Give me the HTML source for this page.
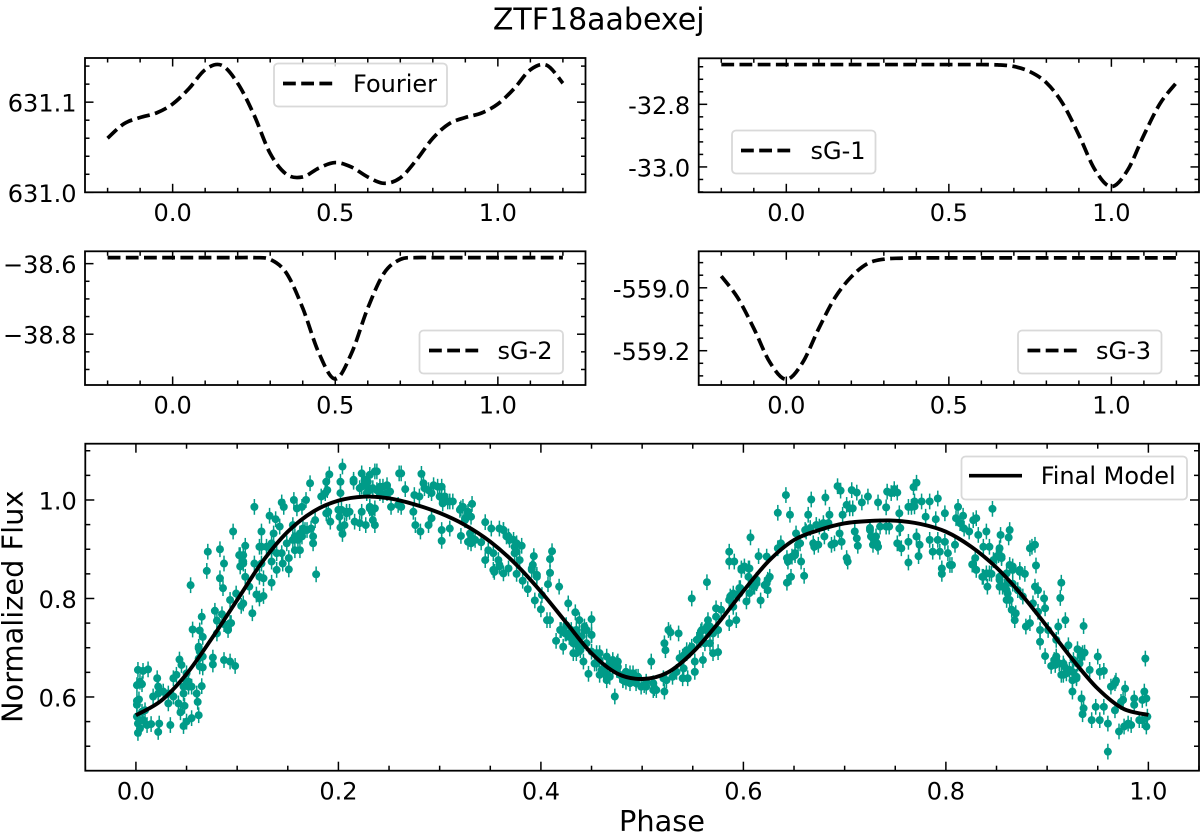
<!DOCTYPE html>
<html lang="en">
<head>
<meta charset="utf-8">
<title>ZTF18aabexej</title>
<style>
html,body{margin:0;padding:0;background:#fff;width:1200px;height:834px;overflow:hidden}
svg{display:block}
text{font-family:"DejaVu Sans","Liberation Sans",sans-serif;fill:#000}
</style>
</head>
<body>
<svg id="figure" xmlns="http://www.w3.org/2000/svg" width="1200" height="834" viewBox="0 0 1200 834">
<text x="598.7" y="29.5" text-anchor="middle" font-size="30">ZTF18aabexej</text>
</svg>
<script>
// Component curves
const gridPhase = [-0.2,-0.15,-0.1,-0.05,0,0.05,0.1,0.15,0.2,0.25,0.3,0.35,0.4,0.45,0.5,0.55,0.6,0.65,0.7,0.75,0.8,0.85,0.9,0.95,1.0,1.05,1.1,1.15,1.2];
const fourierValues = [631.060,631.076,631.083,631.088,631.098,631.115,631.136,631.141,631.121,631.086,631.043,631.020,631.017,631.027,631.033,631.028,631.017,631.010,631.016,631.036,631.060,631.076,631.083,631.088,631.098,631.115,631.136,631.141,631.121];
const sg1Values = [-32.673,-32.673,-32.673,-32.673,-32.673,-32.673,-32.673,-32.673,-32.673,-32.673,-32.673,-32.673,-32.673,-32.673,-32.673,-32.673,-32.673,-32.674,-32.679,-32.696,-32.731,-32.797,-32.898,-33.010,-33.063,-33.010,-32.898,-32.797,-32.731];
const sg2Values = [-38.583,-38.583,-38.583,-38.583,-38.583,-38.583,-38.583,-38.583,-38.583,-38.583,-38.588,-38.627,-38.726,-38.854,-38.927,-38.854,-38.726,-38.627,-38.588,-38.583,-38.583,-38.583,-38.583,-38.583,-38.583,-38.583,-38.583,-38.583,-38.583];
const sg3Values = [-558.963,-559.031,-559.129,-559.238,-559.291,-559.238,-559.129,-559.031,-558.965,-558.923,-558.909,-558.906,-558.905,-558.905,-558.905,-558.905,-558.905,-558.905,-558.905,-558.905,-558.905,-558.905,-558.905,-558.905,-558.905,-558.905,-558.905,-558.905,-558.905];

// Tick labels
const componentXTicks = [0,0.5,1.0];
const componentXLabels = ["0.0","0.5","1.0"];
const fourierYTicks = [631.0,631.1];
const fourierYLabels = ["631.0","631.1"];
const sg1YTicks = [-33.0,-32.8];
const sg1YLabels = ["-33.0","-32.8"];
const sg2YTicks = [-38.8,-38.6];
const sg2YLabels = ["\u221238.8","\u221238.6"];
const sg3YTicks = [-559.2,-559.0];
const sg3YLabels = ["-559.2","-559.0"];
const mainXTicks = [0,0.2,0.4,0.6,0.8,1.0];
const mainXLabels = ["0.0","0.2","0.4","0.6","0.8","1.0"];
const mainYTicks = [0.6,0.8,1.0];
const mainYLabels = ["0.6","0.8","1.0"];

// Final model
const modelPhase = [0,0.025,0.05,0.075,0.1,0.125,0.15,0.175,0.2,0.225,0.25,0.275,0.3,0.325,0.35,0.375,0.4,0.425,0.45,0.475,0.5,0.525,0.55,0.575,0.6,0.625,0.65,0.675,0.7,0.725,0.75,0.775,0.8,0.825,0.85,0.875,0.9,0.925,0.95,0.975,1.0];
const modelFlux = [0.5628,0.5926,0.6467,0.7191,0.797,0.8748,0.9357,0.9763,0.9986,1.0068,1.0034,0.9912,0.9736,0.9492,0.9154,0.8701,0.8139,0.751,0.6887,0.648,0.6365,0.6494,0.6907,0.7496,0.8152,0.8761,0.9188,0.9391,0.9526,0.9574,0.958,0.9513,0.9357,0.9052,0.8626,0.8071,0.7428,0.6765,0.6169,0.5763,0.5635];

// Observations
const fluxError = 0.016;
const obsPhase = [
0.002,0.007,0.012,0.001,0.004,0.006,0.001,0.003,0.001,0.006,
0.009,0.001,0.002,0.007,0.011,0.015,0.002,0.004,0.022,0.023,
0.034,0.021,0.022,0.017,0.022,0.027,0.032,0.037,0.032,0.042,
0.048,0.044,0.047,0.037,0.040,0.043,0.045,0.050,0.052,0.055,
0.065,0.060,0.061,0.062,0.055,0.050,0.047,0.063,0.066,0.062,
0.063,0.062,0.066,0.076,0.076,0.087,0.093,0.098,0.056,0.063,
0.066,0.078,0.065,0.080,0.085,0.087,0.091,0.094,0.080,0.093,
0.099,0.106,0.104,0.115,0.134,0.119,0.122,0.126,0.054,0.070,
0.071,0.083,0.087,0.083,0.086,0.096,0.102,0.106,0.108,0.103,
0.106,0.108,0.112,0.117,0.122,0.124,0.117,0.132,0.138,0.142,
0.136,0.124,0.122,0.126,0.134,0.129,0.134,0.139,0.144,0.145,
0.149,0.151,0.151,0.157,0.157,0.162,0.160,0.164,0.167,0.175,
0.175,0.178,0.155,0.165,0.173,0.177,0.144,0.146,0.156,0.159,
0.164,0.168,0.172,0.183,0.187,0.189,0.188,0.191,0.192,0.190,
0.200,0.201,0.202,0.204,0.206,0.202,0.202,0.204,0.208,0.211,
0.215,0.215,0.216,0.221,0.227,0.223,0.221,0.226,0.231,0.236,
0.238,0.231,0.234,0.244,0.248,0.251,0.223,0.231,0.236,0.234,
0.236,0.252,0.244,0.260,0.259,0.223,0.228,0.238,0.241,0.248,
0.241,0.228,0.229,
0.262,0.266,0.282,0.284,0.289,0.294,0.298,0.302,0.285,0.292,
0.300,0.305,0.308,0.313,0.262,0.274,0.275,0.280,0.276,0.281,
0.289,0.292,0.302,0.302,0.310,0.320,0.323,0.332,0.328,0.331,
0.325,0.321,0.330,0.331,0.335,0.341,0.345,0.351,0.359,0.363,
0.368,0.373,0.376,0.381,0.374,0.348,0.353,0.345,0.358,0.354,
0.359,0.368,0.363,0.376,0.382,0.387,0.393,0.392,0.391,0.396,
0.409,0.411,0.409,0.407,0.401,0.394,0.400,0.406,0.409,0.418,
0.427,0.434,0.438,0.450,0.420,0.425,0.428,0.435,0.443,0.450,
0.415,0.422,0.432,0.435,0.440,0.442,0.447,0.455,0.453,0.460,
0.465,0.471,0.476,0.465,0.473,0.481,0.484,0.491,0.496,0.502,
0.509,0.514,0.522,0.523,0.526,0.528,0.536,0.522,0.524,0.530,
0.540,0.545,0.541,0.552,0.540,0.547,0.544,0.552,0.560,0.554,
0.558,0.563,0.565,0.564,0.549,0.567,0.570,0.575,0.575,0.573,
0.578,0.586,0.586,0.593,0.590,0.596,0.586,0.586,0.591,0.598,
0.601,0.606,0.605,0.610,0.603,0.617,0.624,0.607,0.615,0.623,
0.626,0.634,0.642,0.646,0.634,0.637,0.644,0.643,0.647,0.652,
0.654,0.651,
0.458,0.468,0.475,0.478,0.488,0.494,0.504,0.511,0.521,0.534,
0.539,0.425,0.430,0.438,0.445,0.450,0.458,0.466,0.471,0.484,
0.499,0.511,0.558,0.562,0.567,0.590,0.596,0.613,0.623,
0.657,0.660,0.656,0.661,0.664,0.667,0.669,0.670,0.674,0.672,
0.675,0.681,0.680,0.684,0.685,0.687,0.690,0.693,0.696,0.695,
0.697,0.698,0.702,0.703,0.702,0.705,0.707,0.708,0.710,0.712,
0.713,0.712,0.717,0.723,0.725,0.726,0.728,0.731,0.733,0.733,
0.735,0.741,0.742,0.744,0.746,0.749,0.752,0.752,0.756,0.754,
0.754,0.763,0.766,0.768,0.771,0.769,0.763,0.763,0.771,0.773,
0.774,0.776,0.780,0.784,0.784,0.787,0.790,0.792,0.792,0.794,
0.796,0.796,0.799,0.799,0.802,0.804,0.806,0.809,0.810,0.812,
0.814,0.817,0.818,0.823,0.827,0.830,0.832,0.837,0.840,0.843,
0.846,0.853,0.854,0.863,0.862,0.826,0.829,0.830,0.836,0.840,
0.841,0.845,0.850,0.855,0.853,0.856,0.861,0.860,0.863,0.866,
0.873,0.878,0.865,0.868,0.869,0.879,0.883,0.888,0.891,0.883,
0.885,0.888,0.889,0.897,0.898,0.893,0.893,0.901,0.898,0.904,
0.907,0.911,0.914,0.913,0.918,0.909,0.916,0.917,0.921,0.925,
0.930,0.935,0.937,0.936,0.932,0.929,0.942,0.925,0.934,0.936,
0.935,0.944,0.950,0.952,0.956,0.952,0.948,0.956,0.960,0.963,
0.967,0.968,0.960,0.967,0.971,0.975,0.977,0.980,0.983,0.986,
0.986,0.991,0.994,0.996,0.998,0.997,0.998,0.994,0.999,0.973,
0.976,
0.860,0.866,0.871,0.886,0.891,0.912,0.919,0.925,0.930,0.934,
0.909,0.853,0.861,0.876,
0.419,0.424,0.429,0.434,0.437,0.432,0.440,0.445,0.443,0.450,
0.439,0.458,0.465,0.471,0.475,0.476,0.455,0.462,0.468,0.481,
0.488,0.494,0.504,0.512,0.488,0.494,
0.303,0.310,0.321,0.328,0.325,0.332,0.328,0.363,0.369,0.374,
0.366,0.376,0.359,0.353,0.391,0.396,0.379,
0.537,0.544,0.549,0.557,0.559,0.564,0.570,0.573,0.587,0.590,
0.597,0.598,0.605,0.606,0.611,0.613,0.621,0.624,0.643,0.648,
0.651,0.662,0.666,0.672,0.679,0.725,0.728,0.732,0.741,0.755,
0.769,0.771,
0.860,0.863,0.866,0.873,0.858,0.837,0.843,0.853,0.909,0.916,
0.922,0.929,0.919,0.914,0.926,0.908,0.934,0.847,0.852,0.855,
0.050,0.047,0.052,0.062,0.103,0.106,0.134,0.139,0.124,0.162,
0.155,0.169,0.203,0.208,0.231,0.233,0.188,0.093
];
const obsFlux = [
0.655,0.653,0.656,0.624,0.631,0.626,0.592,0.595,0.584,0.570,
0.573,0.560,0.546,0.553,0.543,0.545,0.527,0.536,0.529,0.546,
0.543,0.638,0.621,0.601,0.607,0.611,0.607,0.601,0.587,0.587,
0.582,0.569,0.607,0.638,0.645,0.676,0.665,0.648,0.631,0.621,
0.622,0.607,0.590,0.563,0.557,0.550,0.541,0.662,0.660,0.699,
0.692,0.678,0.682,0.680,0.666,0.675,0.672,0.663,0.737,0.735,
0.722,0.775,0.763,0.755,0.768,0.748,0.736,0.750,0.729,0.797,
0.810,0.790,0.785,0.770,0.832,0.808,0.800,0.805,0.827,0.856,
0.895,0.900,0.871,0.841,0.821,0.936,0.888,0.888,0.907,0.865,
0.871,0.844,0.824,0.871,0.905,0.936,0.986,0.968,0.961,0.946,
0.932,0.871,0.844,0.841,0.912,0.905,0.875,0.858,0.892,0.871,
0.912,0.882,0.859,0.926,0.898,0.898,0.919,0.926,0.939,0.926,
0.912,0.849,0.949,0.942,0.942,0.959,0.995,0.986,1.000,0.983,
0.986,1.000,1.034,1.007,1.014,1.020,1.037,1.052,0.956,0.976,
0.980,0.966,0.944,0.931,0.949,1.014,1.037,1.068,0.973,0.976,
1.041,1.037,0.956,0.953,0.949,1.054,1.024,1.041,1.051,1.058,
1.058,1.020,1.024,1.027,1.030,1.017,0.976,0.983,0.983,0.959,
0.949,0.986,1.010,1.054,0.990,1.027,1.014,1.020,1.014,1.014,
1.027,1.027,1.037,
1.054,1.022,1.053,1.034,1.020,1.030,1.027,1.027,1.024,1.014,
1.007,1.007,0.997,0.997,0.986,0.976,1.010,1.007,0.949,0.936,
0.949,0.963,0.939,0.917,0.942,0.980,0.986,0.992,0.976,0.966,
0.959,0.927,0.932,0.912,0.919,0.914,0.955,0.942,0.942,0.939,
0.926,0.919,0.912,0.907,0.892,0.898,0.892,0.878,0.878,0.854,
0.868,0.861,0.851,0.850,0.836,0.819,0.886,0.868,0.858,0.844,
0.880,0.896,0.852,0.829,0.807,0.796,0.778,0.756,0.756,0.824,
0.790,0.772,0.756,0.758,0.736,0.729,0.722,0.736,0.736,0.726,
0.714,0.702,0.709,0.689,0.702,0.672,0.647,0.689,0.668,0.655,
0.662,0.672,0.672,0.634,0.601,0.634,0.651,0.648,0.641,0.624,
0.672,0.614,0.709,0.695,0.736,0.731,0.729,0.611,0.634,0.641,
0.638,0.638,0.658,0.651,0.682,0.695,0.689,0.672,0.675,0.716,
0.733,0.736,0.756,0.833,0.800,0.709,0.689,0.691,0.736,0.780,
0.777,0.797,0.750,0.756,0.810,0.821,0.895,0.875,0.875,0.861,
0.865,0.861,0.844,0.824,0.794,0.796,0.817,0.924,0.886,0.885,
0.844,0.974,1.010,0.970,0.902,0.912,0.875,0.832,0.844,0.932,
0.909,0.888,
0.675,0.668,0.655,0.645,0.638,0.634,0.631,0.628,0.638,0.651,
0.675,0.746,0.736,0.722,0.709,0.692,0.645,0.645,0.658,0.631,
0.621,0.614,0.716,0.709,0.743,0.783,0.810,0.831,0.831,
0.875,0.846,0.912,0.939,0.970,1.001,0.912,0.905,0.909,0.949,
0.946,1.005,0.926,0.953,0.970,0.909,0.912,1.028,1.019,0.932,
0.915,0.970,0.882,0.875,0.990,0.983,1.020,0.983,0.936,1.015,
0.907,0.922,0.995,1.007,0.939,0.926,0.909,0.926,0.905,0.995,
0.946,0.985,1.017,0.946,1.014,1.022,1.015,0.912,0.902,0.973,
0.942,0.986,0.986,1.026,1.035,0.997,0.873,0.915,0.926,0.886,
0.909,0.997,0.966,0.997,0.919,0.895,0.961,1.003,0.919,0.895,
0.861,0.850,0.973,0.915,0.892,0.868,0.868,0.909,0.963,0.986,
0.953,0.968,0.942,0.936,0.959,0.963,0.929,0.905,0.936,0.905,
0.982,0.902,0.929,0.939,0.924,0.869,0.882,0.858,0.844,0.851,
0.824,0.850,0.885,0.882,0.844,0.824,0.810,0.797,0.868,0.858,
0.854,0.850,0.777,0.756,0.770,0.743,0.750,0.824,0.817,0.902,
0.905,0.909,0.867,0.800,0.780,0.736,0.712,0.736,0.683,0.663,
0.675,0.743,0.832,0.801,0.756,0.716,0.645,0.662,0.705,0.651,
0.697,0.689,0.690,0.744,0.668,0.638,0.655,0.611,0.597,0.577,
0.565,0.553,0.682,0.651,0.653,0.553,0.580,0.580,0.546,0.621,
0.628,0.633,0.489,0.573,0.530,0.594,0.617,0.546,0.543,0.597,
0.584,0.553,0.594,0.611,0.597,0.678,0.540,0.553,0.560,0.590,
0.540,
0.851,0.830,0.817,0.790,0.773,0.668,0.655,0.634,0.668,0.682,
0.682,0.824,0.831,0.804,
0.736,0.729,0.723,0.716,0.702,0.689,0.723,0.736,0.743,0.726,
0.695,0.689,0.682,0.675,0.668,0.661,0.668,0.651,0.641,0.635,
0.648,0.641,0.621,0.618,0.628,0.628,
0.993,0.997,0.983,0.973,0.963,0.922,0.915,0.939,0.919,0.905,
0.926,0.895,0.865,0.858,0.861,0.848,0.878,
0.679,0.695,0.702,0.723,0.736,0.743,0.729,0.763,0.804,0.807,
0.821,0.858,0.861,0.811,0.824,0.838,0.827,0.838,0.882,0.885,
0.892,0.936,0.943,0.949,0.953,0.943,0.922,0.912,0.946,0.943,
0.987,0.926,
0.817,0.797,0.865,0.858,0.824,0.844,0.851,0.838,0.682,0.668,
0.655,0.641,0.648,0.645,0.675,0.665,0.685,0.878,0.888,0.885,
0.631,0.621,0.621,0.702,0.888,0.875,0.898,0.892,0.905,0.932,
0.919,0.939,0.980,0.976,0.986,0.976,0.973,0.750
];

const SVG_NS = 'http://www.w3.org/2000/svg';
const figure = document.getElementById('figure');

function make(parent, tag, attrs, content) {
  const el = document.createElementNS(SVG_NS, tag);
  for (const k in attrs) el.setAttribute(k, attrs[k]);
  if (content !== undefined) el.textContent = content;
  parent.appendChild(el);
  return el;
}

function smoothPath(xs, ys) {
  let d = 'M' + xs[0].toFixed(2) + ' ' + ys[0].toFixed(2);
  for (let i = 0; i < xs.length - 1; i++) {
    const i0 = Math.max(0, i - 1), i3 = Math.min(xs.length - 1, i + 2);
    const c1x = xs[i] + (xs[i + 1] - xs[i0]) / 6;
    const c1y = ys[i] + (ys[i + 1] - ys[i0]) / 6;
    const c2x = xs[i + 1] - (xs[i3] - xs[i]) / 6;
    const c2y = ys[i + 1] - (ys[i3] - ys[i]) / 6;
    d += 'C' + c1x.toFixed(2) + ' ' + c1y.toFixed(2) + ' ' + c2x.toFixed(2) + ' ' + c2y.toFixed(2) + ' ' + xs[i + 1].toFixed(2) + ' ' + ys[i + 1].toFixed(2);
  }
  return d;
}

function drawAxes(name, box, xDomain, yDomain, xTicks, xLabels, xMinorStep, yTicks, yLabels, yMinorStep, majorLen, minorLen) {
  const g = make(figure, 'g', {});
  
  
  const sx = v => box.left + (v - xDomain[0]) / (xDomain[1] - xDomain[0]) * (box.right - box.left);
  const sy = v => box.bottom - (v - yDomain[0]) / (yDomain[1] - yDomain[0]) * (box.bottom - box.top);

  function tick(x1, y1, x2, y2, kind) {
    const t = make(g, 'line', {x1: x1, y1: y1, x2: x2, y2: y2, stroke: '#000', 'stroke-width': 1.5});
    
    
  }
  const xStart = Math.ceil(xDomain[0] / xMinorStep - 1e-6), xEnd = Math.floor(xDomain[1] / xMinorStep + 1e-6);
  for (let k = xStart; k <= xEnd; k++) {
    const v = k * xMinorStep;
    if (xTicks.some(m => Math.abs(m - v) < 1e-6)) continue;
    tick(sx(v), box.bottom, sx(v), box.bottom - minorLen, 'x-minor-tick');
    tick(sx(v), box.top, sx(v), box.top + minorLen, 'x-minor-tick');
  }
  const yStart = Math.ceil(yDomain[0] / yMinorStep - 1e-6), yEnd = Math.floor(yDomain[1] / yMinorStep + 1e-6);
  for (let k = yStart; k <= yEnd; k++) {
    const v = k * yMinorStep;
    if (yTicks.some(m => Math.abs(m - v) < 1e-6)) continue;
    tick(box.left, sy(v), box.left + minorLen, sy(v), 'y-minor-tick');
    tick(box.right, sy(v), box.right - minorLen, sy(v), 'y-minor-tick');
  }
  xTicks.forEach((v, i) => {
    tick(sx(v), box.bottom, sx(v), box.bottom - majorLen, 'x-major-tick');
    tick(sx(v), box.top, sx(v), box.top + majorLen, 'x-major-tick');
    const lab = make(g, 'text', {x: sx(v), y: box.bottom + 28.6, 'text-anchor': 'middle', 'font-size': 24}, xLabels[i]);
    
    
  });
  yTicks.forEach((v, i) => {
    tick(box.left, sy(v), box.left + majorLen, sy(v), 'y-major-tick');
    tick(box.right, sy(v), box.right - majorLen, sy(v), 'y-major-tick');
    const lab = make(g, 'text', {x: box.left - 8.5, y: sy(v) + 9.5, 'text-anchor': 'end', 'font-size': 24}, yLabels[i]);
    
    
  });
  const frame = make(g, 'rect', {x: box.left, y: box.top, width: box.right - box.left, height: box.bottom - box.top, fill: 'none', stroke: '#000', 'stroke-width': 1.8});
  
  
  return {g, sx, sy};
}

function drawLegend(name, parent, rect, lineY, lineX1, lineX2, textX, label, dashed) {
  const lg = make(parent, 'g', {});
  
  
  const bg = make(lg, 'rect', {x: rect.x, y: rect.y, width: rect.w, height: rect.h, rx: 4, ry: 4, fill: '#fff', 'fill-opacity': 0.8, stroke: '#d9d9d9', 'stroke-width': 1.8});
  
  
  const ln = make(lg, 'line', {x1: lineX1, y1: lineY, x2: lineX2, y2: lineY, stroke: '#000', 'stroke-width': 3.7});
  if (dashed) ln.setAttribute('stroke-dasharray', '12.8 5.4');
  
  
  const tx = make(lg, 'text', {x: textX, y: lineY + 8.5, 'font-size': 24}, label);
  
  
}

function drawComponent(name, box, xDomain, yDomain, yTicks, yLabels, yMinorStep, values, legend) {
  const ax = drawAxes(name, box, xDomain, yDomain, componentXTicks, componentXLabels, 0.1, yTicks, yLabels, yMinorStep, 8.5, 4.5);
  const p = make(ax.g, 'path', {d: smoothPath(gridPhase.map(ax.sx), values.map(ax.sy)), fill: 'none', stroke: '#000', 'stroke-width': 3.7, 'stroke-dasharray': '12.8 5.4'});
  
  
  drawLegend(name, ax.g, legend.rect, legend.y, legend.x1, legend.x2, legend.tx, legend.label, true);
}

const xDom = [-0.2695, 1.2695];
drawComponent('fourier', {left: 85, right: 585.5, top: 58, bottom: 192.3}, xDom, [631.0, 631.149], fourierYTicks, fourierYLabels, 0.02, fourierValues,
  {rect: {x: 274, y: 63.5, w: 173, h: 43}, y: 83.5, x1: 283, x2: 333, tx: 353, label: 'Fourier'});
drawComponent('sg-1', {left: 698.7, right: 1199, top: 58.3, bottom: 192.3}, xDom, [-33.081, -32.653], sg1YTicks, sg1YLabels, 0.04, sg1Values,
  {rect: {x: 732, y: 130.5, w: 143.5, h: 43}, y: 150.5, x1: 741, x2: 791, tx: 810.5, label: 'sG-1'});
drawComponent('sg-2', {left: 85, right: 585.5, top: 251.3, bottom: 385}, xDom, [-38.944, -38.565], sg2YTicks, sg2YLabels, 0.05, sg2Values,
  {rect: {x: 419.5, y: 330.5, w: 143.5, h: 43}, y: 350.5, x1: 429, x2: 479, tx: 497.5, label: 'sG-2'});
drawComponent('sg-3', {left: 698.7, right: 1199, top: 251.3, bottom: 385}, xDom, [-559.309, -558.884], sg3YTicks, sg3YLabels, 0.04, sg3Values,
  {rect: {x: 1018, y: 330.5, w: 143.5, h: 43}, y: 350.5, x1: 1027.5, x2: 1077.5, tx: 1096, label: 'sG-3'});

// Main light-curve panel
const mainAx = drawAxes('light-curve', {left: 85.3, right: 1199, top: 443.7, bottom: 770.7}, [-0.05, 1.05], [0.4503, 1.1143], mainXTicks, mainXLabels, 0.05, mainYTicks, mainYLabels, 0.05, 9, 5);

const obsGroup = make(mainAx.g, 'g', {});


obsPhase.forEach((ph, i) => {
  const f = obsFlux[i];
  const bar = make(obsGroup, 'line', {x1: mainAx.sx(ph), x2: mainAx.sx(ph), y1: mainAx.sy(f - fluxError), y2: mainAx.sy(f + fluxError), stroke: '#009b88', 'stroke-width': 1.5});
  
  
  const dot = make(obsGroup, 'circle', {cx: mainAx.sx(ph), cy: mainAx.sy(f), r: 4, fill: '#009b88'});
  
  
});

const modelLine = make(mainAx.g, 'path', {d: smoothPath(modelPhase.map(mainAx.sx), modelFlux.map(mainAx.sy)), fill: 'none', stroke: '#000', 'stroke-width': 3.9});



drawLegend('final-model', mainAx.g, {x: 961.5, y: 456.5, w: 225.5, h: 43}, 475.7, 969, 1022, 1040.7, 'Final Model', false);

const yTitle = make(figure, 'text', {x: 0, y: 0, transform: 'translate(22.5 606.8) rotate(-90)', 'text-anchor': 'middle', 'font-size': 28.8}, 'Normalized Flux');


const xTitle = make(figure, 'text', {x: 662, y: 831, 'text-anchor': 'middle', 'font-size': 28.8}, 'Phase');


</script>
</body>
</html>
